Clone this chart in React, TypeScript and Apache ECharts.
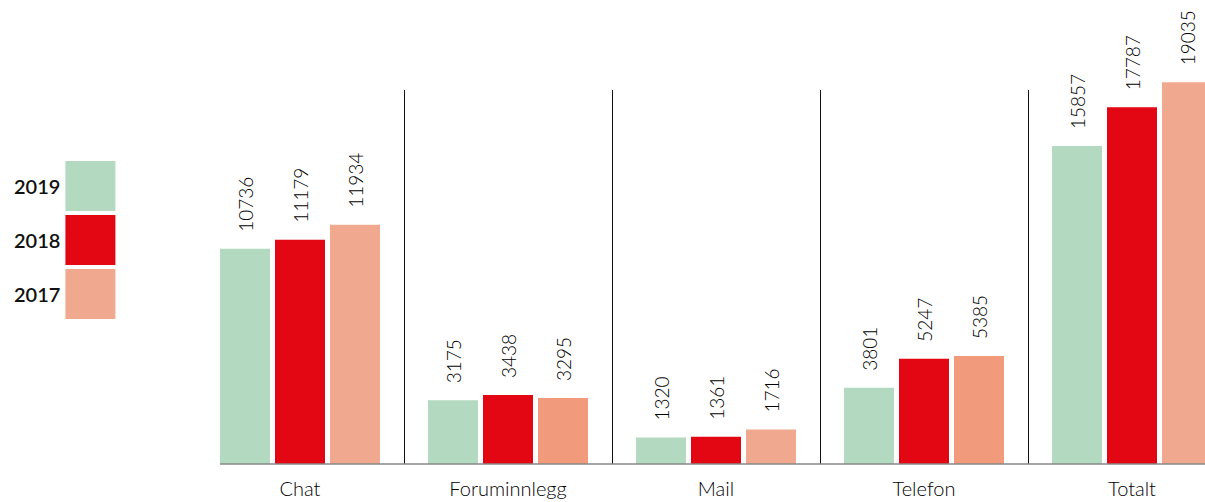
import React, { useEffect, useRef } from "react";
import * as echarts from "echarts";

const categories = ["Chat", "Foruminnlegg", "Mail", "Telefon", "Totalt"];
const years = ["2019", "2018", "2017"];
const values2019 = [10736, 3175, 1320, 3801, 15857];
const values2018 = [11179, 3438, 1361, 5247, 17787];
const values2017 = [11934, 3295, 1716, 5385, 19035];
const colors = ["#b3d9c1", "#e30613", "#f0a98f"];
const shade2017 = ["#f0a98f", "#f29a7c", "#f0a98f", "#f29a7c", "#f0a98f"];

export default function App() {
  const ref = useRef<HTMLDivElement>(null);
  useEffect(() => {
    if (!ref.current) return;
    const chart = echarts.init(ref.current, null, { renderer: "svg" });
    const seriesData = [values2019, values2018, values2017];
    const font = "Lato, 'Open Sans', sans-serif";
    chart.setOption({
      animation: false,
      textStyle: { fontFamily: font },
      legend: {
        orient: "vertical",
        left: 14,
        top: 161,
        padding: 0,
        align: "right",
        itemWidth: 50,
        itemHeight: 50,
        itemGap: 4,
        icon: "rect",
        data: years,
        textStyle: { fontSize: 20, fontWeight: 600, color: "#111", fontFamily: font },
      },
      grid: [
        { left: 196, width: 1040, top: 63, bottom: 38 },
        { left: 196, width: 1040, top: 90, bottom: 38 },
      ],
      xAxis: [
        {
          type: "category",
          gridIndex: 0,
          data: categories,
          axisLine: { show: false },
          axisTick: { show: false },
          axisLabel: { fontSize: 20, color: "#000", margin: 14, fontFamily: font, fontWeight: 300 },
        },
        {
          type: "category",
          gridIndex: 1,
          data: categories,
          axisLine: { show: false },
          axisTick: { show: false },
          axisLabel: { show: false },
          splitLine: {
            show: true,
            interval: (index: number) => index > 0,
            lineStyle: { color: "#111", width: 1 },
          },
        },
      ],
      yAxis: [
        { type: "value", gridIndex: 0, min: 0, max: 20000, show: false },
        { type: "value", gridIndex: 1, min: 0, max: 1, show: false },
      ],
      graphic: [
        {
          type: "line",
          shape: { x1: 220, y1: 464, x2: 1205, y2: 464 },
          style: { stroke: "#888", lineWidth: 1.5 },
          z: 10,
        },
      ],
      series: years.map((y, i) => ({
        name: y,
        type: "bar",
        xAxisIndex: 0,
        yAxisIndex: 0,
        data: seriesData[i].map((v, j) =>
          i === 2 ? { value: v, itemStyle: { color: shade2017[j] } } : v
        ),
        barWidth: 50,
        barGap: "10%",
        itemStyle: { color: colors[i] },
        label: {
          show: true,
          position: "top",
          rotate: 90,
          align: "left",
          verticalAlign: "middle",
          distance: 17,
          fontSize: 19,
          fontWeight: 300,
          color: "#000",
          fontFamily: font,
        },
      })),
    });
    return () => chart.dispose();
  }, []);
  return (
    <div style={{ position: "absolute", left: 0, top: 0, width: 1205, height: 502, overflow: "hidden" }}>
      <div ref={ref} style={{ width: 1240, height: 502 }} />
    </div>
  );
}
